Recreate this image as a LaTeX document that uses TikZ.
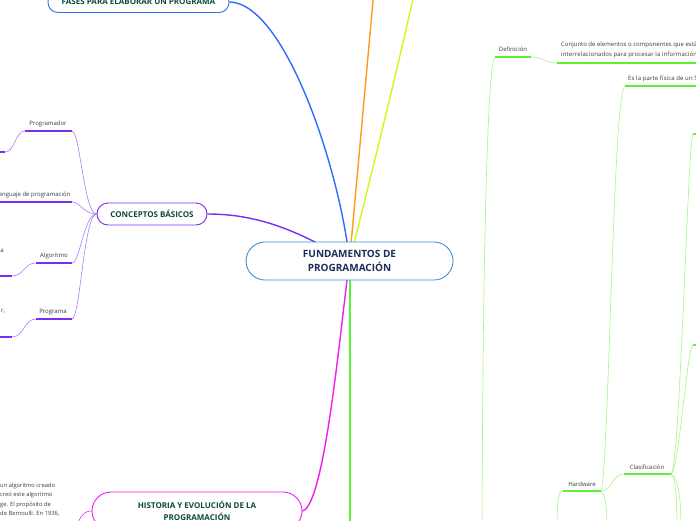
\documentclass[tikz,border=0pt]{standalone}
\usepackage{fontspec}
\setmainfont{Open Sans}
\usepackage{tikz}
\usetikzlibrary{backgrounds}

\definecolor{fasesblue}{HTML}{2F6BFF}
\definecolor{concpurple}{HTML}{7A2EF2}
\definecolor{concthin}{HTML}{A67EFF}
\definecolor{histmag}{HTML}{F21BF2}
\definecolor{rootblue}{HTML}{3E8ED8}
\definecolor{rootnavy}{HTML}{1C2D5A}
\definecolor{titlegreen}{HTML}{0E4A3A}
\definecolor{sysgreen}{HTML}{5CF23A}
\definecolor{systhin}{HTML}{A2F584}
\definecolor{labelgray}{HTML}{3A3A3A}
\definecolor{progorange}{HTML}{FF9A1A}
\definecolor{limeline}{HTML}{D2F51A}

\begin{document}
\begin{tikzpicture}[x=1pt, y=-1pt,
  root/.style={draw=rootblue, fill=white, line width=0.9pt, rounded corners=19pt, minimum width=207pt, minimum height=38pt, align=center, font=\fontsize{10}{14}\selectfont\bfseries, text=rootnavy, inner sep=0pt},
  topic/.style={draw, fill=white, line width=0.9pt, align=center, font=\fontsize{8}{12.5}\selectfont\bfseries, text=titlegreen, inner sep=0pt},
  leaflabel/.style={font=\fontsize{6}{7}\selectfont, text=labelgray, inner sep=0pt},
  leafnote/.style={font=\fontsize{5.8}{9.3}\selectfont, text=labelgray, inner sep=0pt, align=left},
  branch/.style={line width=1.4pt},
  underline/.style={line width=1.6pt},
  twig/.style={line width=0.6pt}
]
  \useasboundingbox (0,0) rectangle (696,520);
  \clip (0,0) rectangle (696,520);

  % main topics
  \node[root] (root) at (349.5,261) {FUNDAMENTOS DE\\PROGRAMACIÓN};
  \node[topic, draw=fasesblue, rounded corners=10pt, minimum width=181pt, minimum height=21pt] (fases) at (138.5,2) {FASES PARA ELABORAR UN PROGRAMA};
  \node[topic, draw=concpurple, rounded corners=11pt, minimum width=110pt, minimum height=22pt] (conceptos) at (152,214) {CONCEPTOS BÁSICOS};
  \node[topic, draw=histmag, rounded corners=19pt, minimum width=210pt, minimum height=38pt] (historia) at (197,511) {HISTORIA Y EVOLUCIÓN DE LA\\PROGRAMACIÓN};

  % conceptos basicos
  \node[leaflabel] (programador) at (48,124) {Programador};
  \node[leaflabel] (lenguaje) at (33,195) {Lenguaje de programación};
  \node[leaflabel] (algoritmo) at (54,256) {Algoritmo};
  \node[leaflabel] (programa) at (53,312) {Programa};
  \node[leaflabel] (algtxt) at (2,251) {a};
  \node[leaflabel] (progtxt) at (3,311) {r,};
  \coordinate (programador-l) at (25,131);  \coordinate (programador-r) at (72,131);
  \coordinate (lenguaje-l) at (-10,202);    \coordinate (lenguaje-r) at (72,202);
  \coordinate (algoritmo-l) at (36,263);    \coordinate (algoritmo-r) at (72,263);
  \coordinate (programa-l) at (36,319);     \coordinate (programa-r) at (72,319);
  \coordinate (progsub-l) at (-5,152);      \coordinate (progsub-r) at (5,152);
  \coordinate (algsub-l) at (-5,276);       \coordinate (algsub-r) at (12,276);
  \coordinate (prgsub-l) at (-5,337);       \coordinate (prgsub-r) at (12,337);

  % historia
  \node[leafnote, anchor=north west] (histtxt) at (0,483) {un algoritmo creado\\creó este algoritmo\\ge. El propósito de\\de Bernoulli. En 1936,};
  \coordinate (histoff) at (74,532);

  % sistema
  \node[leaflabel] (definicion) at (513,49) {Definición};
  \node[leafnote, anchor=north west, font=\fontsize{6}{9.3}\selectfont] (conjunto) at (561,42) {Conjunto de elementos o componentes que están\\{\addfontfeature{LetterSpace=2}interrelacionados para procesar la información.}};
  \node[leafnote, anchor=west, font=\fontsize{6}{7}\selectfont\addfontfeature{LetterSpace=2}] (fisica) at (628,78.5) {Es la parte física de un S};
  \node[leaflabel] (hardware) at (582,484) {Hardware};
  \node[leaflabel] (clasificacion) at (647,467) {Clasificación};
  \coordinate (def-l) at (495,57);    \coordinate (def-r) at (531,57);
  \coordinate (conj-l) at (557,63);   \coordinate (conj-r) at (700,63);
  \coordinate (fis-l) at (625,86);    \coordinate (fis-r) at (700,86);
  \coordinate (hw-l) at (563,491);    \coordinate (hw-r) at (601,491);
  \coordinate (cl-l) at (624,474);    \coordinate (cl-r) at (671,474);
  \coordinate (ticka-l) at (693,134); \coordinate (ticka-r) at (700,134);
  \coordinate (tickb-l) at (693,345); \coordinate (tickb-r) at (700,345);
  \coordinate (greenoff) at (350,532);
  \coordinate (defoff) at (482,532);
  \coordinate (hwoff) at (557,532);
  \coordinate (hwsub) at (607,532);
  \coordinate (cloffa) at (677,532);
  \coordinate (cloffb) at (681,532);
  \coordinate (orangeoff) at (374,-10);
  \coordinate (limeoff) at (415,-10);

  \begin{scope}[on background layer]
    \draw[branch, fasesblue] (fases.east) .. controls (285,3) and (340,170) .. (root.center);
    \draw[branch, progorange] (orangeoff) -- (root.center);
    \draw[branch, limeline] (limeoff) .. controls (395,80) and (365,200) .. (root.center);
    \draw[branch, concpurple] (conceptos.east) .. controls (260,214) and (300,232) .. (root.center);
    \draw[branch, histmag] (historia.east) .. controls (325,505) and (340,330) .. (root.center);
    \draw[branch, sysgreen, line width=1.8pt] (350,261) -- (greenoff);

    \draw[twig, concthin] (conceptos.west) .. controls (84,214) and (80,131) .. (programador-r);
    \draw[twig, concthin] (conceptos.west) .. controls (84,214) and (80,202) .. (lenguaje-r);
    \draw[twig, concthin] (conceptos.west) .. controls (84,214) and (80,263) .. (algoritmo-r);
    \draw[twig, concthin] (conceptos.west) .. controls (84,214) and (80,319) .. (programa-r);
    \draw[twig, concthin] (programador-l) .. controls (15,131) and (15,152) .. (progsub-r);
    \draw[twig, concthin] (algoritmo-l) .. controls (24,263) and (24,276) .. (algsub-r);
    \draw[twig, concthin] (programa-l) .. controls (24,319) and (24,337) .. (prgsub-r);
    \draw[underline, concpurple] (programador-l) -- (programador-r);
    \draw[underline, concpurple] (lenguaje-l) -- (lenguaje-r);
    \draw[underline, concpurple] (algoritmo-l) -- (algoritmo-r);
    \draw[underline, concpurple] (programa-l) -- (programa-r);
    \draw[underline, concpurple] (progsub-l) -- (progsub-r);
    \draw[underline, concpurple] (algsub-l) -- (algsub-r);
    \draw[underline, concpurple] (prgsub-l) -- (prgsub-r);

    \draw[twig, histmag] (historia.west) .. controls (84,511) and (80,516) .. (histoff);

    \draw[twig, systhin] (defoff) .. controls (483,200) and (489,57) .. (def-l);
    \draw[twig, systhin] (def-r) .. controls (545,57) and (543,63) .. (conj-l);
    \draw[twig, systhin] (hw-r) .. controls (609,470) and (613,86) .. (fis-l);
    \draw[twig, systhin] (hw-r) .. controls (612,491) and (612,474) .. (cl-l);
    \draw[twig, systhin] (hw-r) .. controls (606,495) and (607,510) .. (hwsub);
    \draw[twig, systhin] (hw-l) .. controls (558,491) and (557,500) .. (hwoff);
    \draw[twig, systhin] (cl-r) .. controls (680,470) and (688,136) .. (ticka-l);
    \draw[twig, systhin] (cl-r) .. controls (679,470) and (687,347) .. (tickb-l);
    \draw[twig, systhin] (cl-r) .. controls (676,478) and (677,500) .. (cloffa);
    \draw[twig, systhin] (cl-r) .. controls (679,478) and (681,500) .. (cloffb);
    \draw[underline, sysgreen] (def-l) -- (def-r);
    \draw[underline, sysgreen] (conj-l) -- (conj-r);
    \draw[underline, sysgreen] (fis-l) -- (fis-r);
    \draw[underline, sysgreen] (hw-l) -- (hw-r);
    \draw[underline, sysgreen] (cl-l) -- (cl-r);
    \draw[underline, sysgreen] (ticka-l) -- (ticka-r);
    \draw[underline, sysgreen] (tickb-l) -- (tickb-r);
  \end{scope}
\end{tikzpicture}
\end{document}
